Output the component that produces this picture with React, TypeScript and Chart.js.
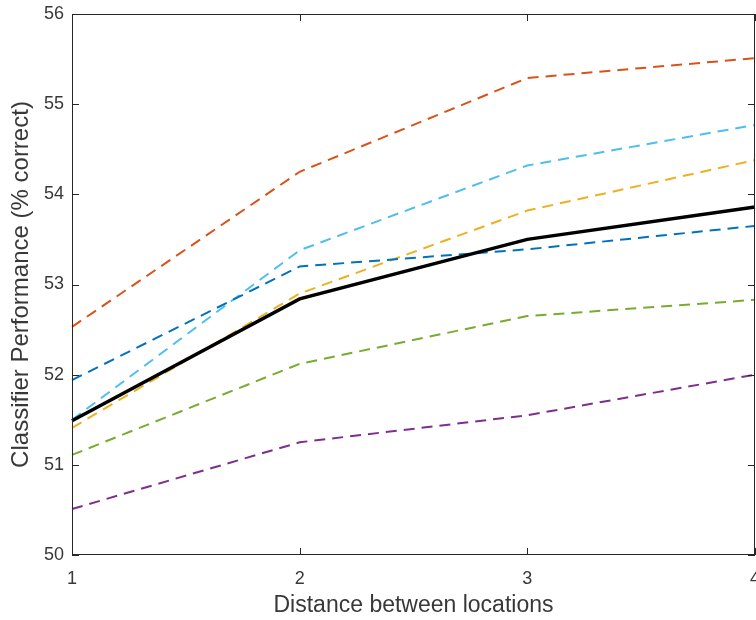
import React, { useEffect, useRef } from "react";
import { Chart, registerables } from "chart.js";

Chart.register(...registerables);

const distances = ["1", "2", "3", "4"];
const meanPerf = [51.49, 52.84, 53.5, 53.86];
const orangePerf = [52.53, 54.25, 55.29, 55.51];
const lightBluePerf = [51.5, 53.38, 54.32, 54.77];
const yellowPerf = [51.41, 52.9, 53.82, 54.38];
const darkBluePerf = [51.94, 53.2, 53.39, 53.65];
const greenPerf = [51.11, 52.12, 52.65, 52.83];
const purplePerf = [50.51, 51.25, 51.55, 52.0];
const yTicks = [50, 51, 52, 53, 54, 55, 56];

const AXIS = "#262626";
const TEXT = "#383838";
const FONT = "Liberation Sans, Arial, sans-serif";

const boxPlugin = {
  id: "matlabBox",
  afterDraw(chart: any) {
    const { ctx, chartArea: a, scales } = chart;
    ctx.save();
    ctx.strokeStyle = AXIS;
    ctx.lineWidth = 1;
    ctx.strokeRect(a.left + 0.5, a.top + 0.5, a.right - a.left - 1, a.bottom - a.top - 1);
    const len = 7;
    ctx.beginPath();
    yTicks.forEach((v) => {
      const y = Math.round(scales.y.getPixelForValue(v)) + 0.5;
      ctx.moveTo(a.left, y);
      ctx.lineTo(a.left + len, y);
      ctx.moveTo(a.right, y);
      ctx.lineTo(a.right - len, y);
    });
    distances.forEach((_, i) => {
      const x = Math.round(scales.x.getPixelForValue(i)) + 0.5;
      ctx.moveTo(x, a.bottom);
      ctx.lineTo(x, a.bottom - len);
      ctx.moveTo(x, a.top);
      ctx.lineTo(x, a.top + len);
    });
    ctx.stroke();
    ctx.restore();
  },
};

function dashed(label: string, data: number[], color: string) {
  return {
    label,
    data,
    borderColor: color,
    backgroundColor: color,
    borderWidth: 2,
    borderDash: [11, 7],
    pointRadius: 0,
    tension: 0,
    fill: false,
  };
}

export default function App() {
  const ref = useRef<HTMLCanvasElement | null>(null);
  useEffect(() => {
    if (!ref.current) return;
    const chart = new Chart(ref.current, {
      type: "line",
      data: {
        labels: distances,
        datasets: [
          {
            label: "Mean",
            data: meanPerf,
            borderColor: "#000000",
            backgroundColor: "#000000",
            borderWidth: 3.4,
            pointRadius: 0,
            tension: 0,
            fill: false,
          },
          dashed("A", darkBluePerf, "#0072BD"),
          dashed("B", orangePerf, "#D95319"),
          dashed("C", yellowPerf, "#EDB120"),
          dashed("D", purplePerf, "#7E2F8E"),
          dashed("E", greenPerf, "#77AC30"),
          dashed("F", lightBluePerf, "#4DBEEE"),
        ],
      },
      options: {
        responsive: false,
        animation: false,
        layout: { padding: { top: 14, right: 1, left: 0, bottom: 0 } },
        plugins: { legend: { display: false }, tooltip: { enabled: false } },
        scales: {
          x: {
            type: "category",
            offset: false,
            grid: { display: false, drawTicks: false },
            border: { display: false },
            ticks: {
              color: TEXT,
              font: { family: FONT, size: 18 },
              padding: 13,
              maxRotation: 0,
              autoSkip: false,
            },
            title: {
              display: true,
              text: "Distance between locations",
              color: TEXT,
              font: { family: FONT, size: 23 },
              padding: { top: 0, bottom: 1 },
            },
            afterFit(scale: any) {
              scale.height = 65;
              scale.paddingLeft = 0;
              scale.paddingRight = 0;
            },
          },
          y: {
            min: 50,
            max: 56,
            grid: { display: false, drawTicks: false },
            border: { display: false },
            ticks: {
              stepSize: 1,
              color: TEXT,
              font: { family: FONT, size: 18 },
              padding: 8,
            },
            title: {
              display: true,
              text: "Classifier Performance (% correct)",
              color: TEXT,
              font: { family: FONT, size: 24 },
              padding: { top: 7, bottom: 0 },
            },
            afterFit(scale: any) {
              scale.width = 72;
              scale.paddingTop = 0;
              scale.paddingBottom = 0;
            },
          },
        },
      },
      plugins: [boxPlugin],
    });
    return () => chart.destroy();
  }, []);
  return (
    <div style={{ position: "absolute", left: 0, top: 0, width: 756, height: 620, background: "#fff" }}>
      <canvas ref={ref} width={756} height={620} />
    </div>
  );
}
